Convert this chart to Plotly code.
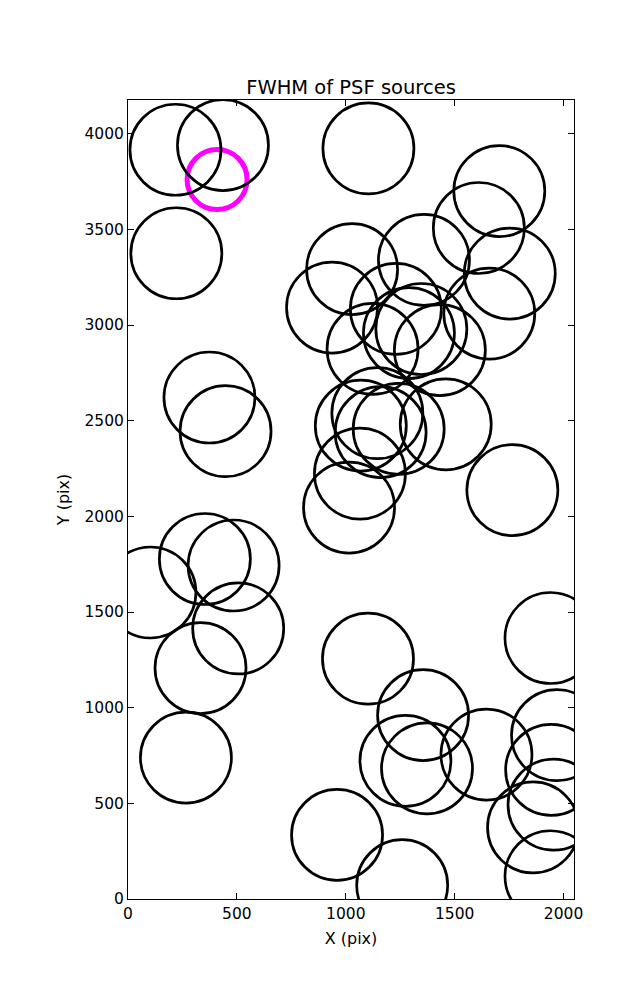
import plotly.graph_objects as go

# Source positions (pixels on the detector)
src_x = [218, 436, 222, 1104, 1705, 1611, 1753, 1359, 1029, 937, 1230, 1123, 1290, 1347,
         1432, 1659, 374, 448, 1069, 1145, 1160, 1243, 1459, 1065, 1015, 1765, 103, 353,
         485, 506, 333, 266, 1102, 1940, 1355, 1274, 1373, 1646, 1970, 1943, 1954, 1860,
         1940, 960, 1259]
src_y = [3916, 3940, 3375, 3923, 3700, 3507, 3269, 3340, 3292, 3091, 3084, 2875, 2958, 2979,
         2869, 3060, 2621, 2445, 2474, 2539, 2440, 2457, 2481, 2223, 2046, 2137, 1602, 1777,
         1743, 1414, 1207, 739, 1256, 1364, 961, 722, 683, 755, 856, 675, 493, 374,
         119, 335, 72]

# Highlighted source
hl_x = [409]
hl_y = [3760]

x_ticks = [0, 500, 1000, 1500, 2000]
y_ticks = [0, 500, 1000, 1500, 2000, 2500, 3000, 3500, 4000]

fig = go.Figure()
fig.add_trace(go.Scatter(
    x=hl_x, y=hl_y, mode="markers", showlegend=False, hoverinfo="skip",
    marker=dict(symbol="circle-open", size=60, color="#ff00ff",
                line=dict(width=5, color="#ff00ff")),
))
fig.add_trace(go.Scatter(
    x=src_x, y=src_y, mode="markers", showlegend=False, hoverinfo="skip",
    marker=dict(symbol="circle-open", size=91, color="black",
                line=dict(width=2.7, color="black")),
))

axis_common = dict(
    showgrid=False, zeroline=False, showline=True, linecolor="black", linewidth=1,
    mirror="ticks", ticks="inside", ticklen=6, tickwidth=1, tickcolor="black",
    tickfont=dict(family="DejaVu Sans", size=15.5, color="black"),
)
fig.update_xaxes(range=[0, 2048], tickvals=x_ticks, ticktext=[str(v) for v in x_ticks],
                 title=dict(text="X (pix)", font=dict(family="DejaVu Sans", size=16, color="black"),
                            standoff=11),
                 **axis_common)
fig.update_yaxes(range=[0, 4176], tickvals=y_ticks, ticktext=[str(v) for v in y_ticks],
                 title=dict(text="Y (pix)", font=dict(family="DejaVu Sans", size=16, color="black"),
                            standoff=10),
                 **axis_common)

fig.update_layout(
    width=637, height=1000,
    margin=dict(l=120, r=70.5, t=92, b=108.5, autoexpand=False),
    paper_bgcolor="white", plot_bgcolor="white",
    title=dict(text="FWHM of PSF sources", x=0.5385, xanchor="center", y=0.921, yanchor="middle",
               font=dict(family="DejaVu Sans", size=19.5, color="black")),
)

fig.write_html("out.html")
